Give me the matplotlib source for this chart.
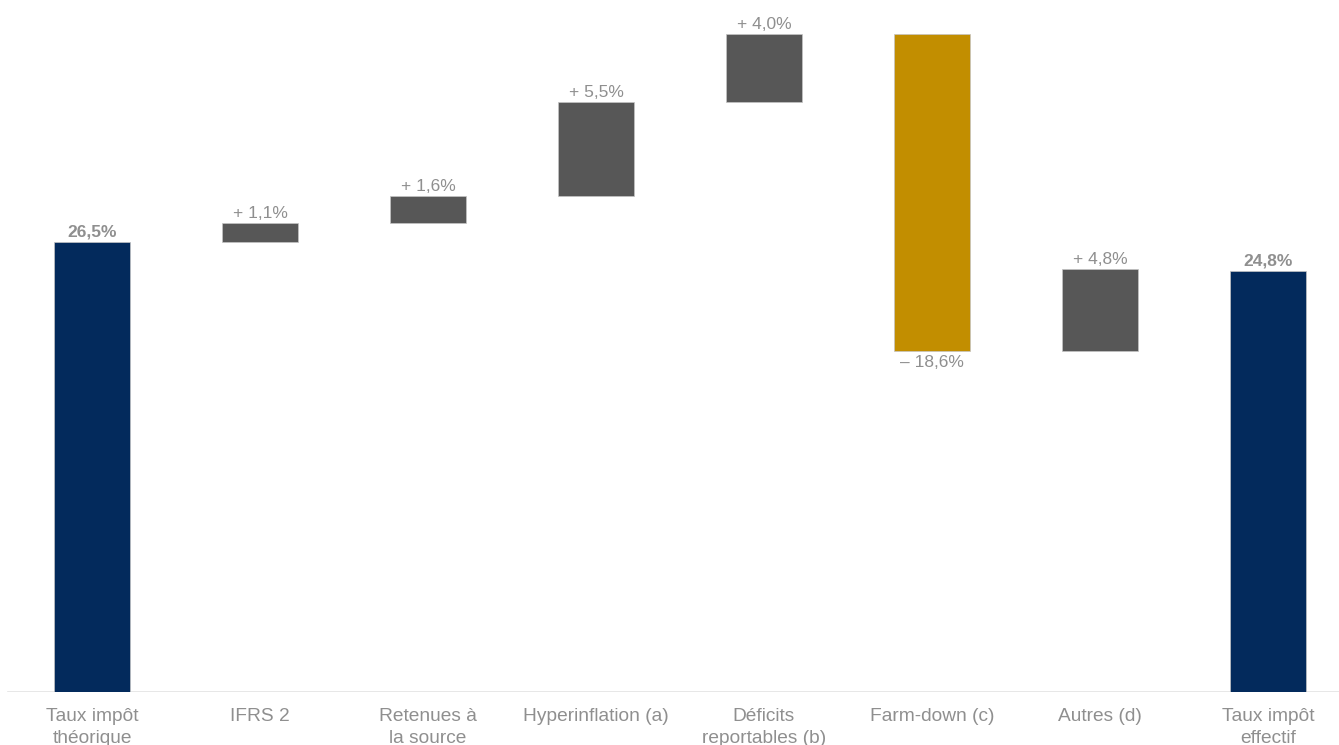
import numpy as np
import matplotlib
matplotlib.use("Agg")
import matplotlib.pyplot as plt

plt.rcParams['font.family'] = ['Liberation Sans', 'DejaVu Sans']

categories = ["Taux impôt\nthéorique", "IFRS 2", "Retenues à\nla source", "Hyperinflation (a)",
              "Déficits\nreportables (b)", "Farm-down (c)", "Autres (d)", "Taux impôt\neffectif"]
start_rate = 26.5
deltas = [1.1, 1.6, 5.5, 4.0, -18.6, 4.8]
end_rate = 24.8

NAVY = '#032a5c'
GREY = '#575757'
GOLD = '#c28e00'
TXT = '#8f8f8f'

def fmt(v):
    return ("%.1f" % abs(v)).replace('.', ',')

# waterfall geometry
bottoms, heights, colors = [0], [start_rate], [NAVY]
level = start_rate
for d in deltas:
    if d >= 0:
        bottoms.append(level); heights.append(d); colors.append(GREY)
    else:
        bottoms.append(level + d); heights.append(-d); colors.append(GOLD)
    level += d
bottoms.append(0); heights.append(end_rate); colors.append(NAVY)

fig = plt.figure(figsize=(13.39, 7.45), dpi=100)
ax = fig.add_axes([0, 53/745, 1, 692/745])
x = np.arange(len(categories))
ax.bar(x, heights, bottom=bottoms, width=0.452, color=colors, edgecolor='#c4c4c4', linewidth=0.5, zorder=2)

ax.set_xlim(-92/168, (1339-92)/168)
ax.set_ylim(0, 692/16.99)
ax.axhline(0, xmin=8/1339, color='#e3e3e3', lw=1.2, zorder=1)

# value labels
ax.annotate(fmt(start_rate) + '%', (x[0], start_rate), xytext=(0, 1.5), textcoords='offset points',
            ha='center', va='bottom', fontsize=12.5, color=TXT, fontweight='bold')
for i, d in enumerate(deltas, start=1):
    if d >= 0:
        ax.annotate('+ ' + fmt(d) + '%', (x[i], bottoms[i] + heights[i]), xytext=(0, 1.5),
                    textcoords='offset points', ha='center', va='bottom', fontsize=12.5, color=TXT)
    else:
        ax.annotate('\u2013 ' + fmt(d) + '%', (x[i], bottoms[i]), xytext=(0, -3.5),
                    textcoords='offset points', ha='center', va='top', fontsize=12.5, color=TXT)
ax.annotate(fmt(end_rate) + '%', (x[-1], end_rate), xytext=(0, 1.5), textcoords='offset points',
            ha='center', va='bottom', fontsize=12.5, color=TXT, fontweight='bold')

ax.set_xticks(x, categories)
ax.tick_params(axis='x', length=0, pad=11.5, labelsize=13.8, labelcolor=TXT)
for lbl in ax.get_xticklabels():
    lbl.set_linespacing(1.4)
ax.set_yticks([])
for s in ax.spines.values():
    s.set_visible(False)

fig.savefig('out.png', dpi=100, facecolor='white')
